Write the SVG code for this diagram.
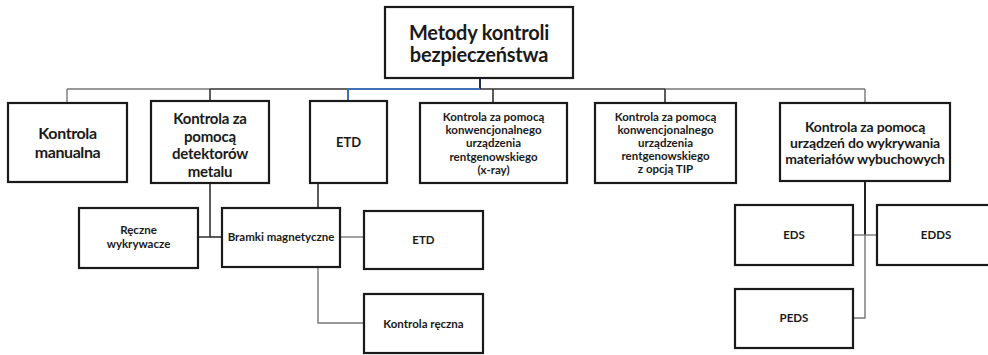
<svg xmlns="http://www.w3.org/2000/svg" width="988" height="355" viewBox="0 0 988 355">
<style>
.box{fill:#fff;stroke:#1a1a1a;stroke-width:2.2}
text{font-family:Lato,"Open Sans","Liberation Sans",sans-serif;font-weight:bold;fill:#1a1a1a;text-anchor:middle}
.t1{font-size:20px;letter-spacing:-0.2px}
.t2{font-size:16px;letter-spacing:-0.4px}
.t2b{font-size:15px;letter-spacing:-0.2px}
.t3{font-size:14px;letter-spacing:-0.2px}
.t4{font-size:11.5px}
.dk{stroke:#333;stroke-width:1.6;fill:none}
.gr{stroke:#777;stroke-width:1.4;fill:none}
.bl{stroke:#3f6fb8;stroke-width:2;fill:none}
.nv{stroke:#1f2f55;stroke-width:2;fill:none}
</style>
<g id="connectors">
<line class="gr" x1="67" y1="89" x2="210" y2="89"/>
<line class="dk" x1="210" y1="89" x2="348" y2="89"/>
<line class="dk" x1="480" y1="89" x2="665" y2="89"/>
<line class="gr" x1="665" y1="89" x2="865" y2="89"/>
<line class="gr" x1="67" y1="89" x2="67" y2="103"/>
<line class="dk" x1="210" y1="89" x2="210" y2="101"/>
<line class="nv" x1="480" y1="78" x2="480" y2="89"/>
<polyline class="bl" points="480,89 348,89 348,101"/>
<line class="dk" x1="493" y1="89" x2="493" y2="103"/>
<line class="dk" x1="665" y1="89" x2="665" y2="103"/>
<line class="gr" x1="865" y1="89" x2="865" y2="103"/>
<polyline class="dk" points="210,183 210,237 198,237"/>
<line class="dk" x1="210" y1="237" x2="222" y2="237"/>
<line class="dk" x1="318" y1="183" x2="318" y2="208"/>
<line class="gr" x1="340" y1="237" x2="364" y2="237"/>
<polyline class="gr" points="318,267 318,323 364,323"/>
<line class="nv" x1="865" y1="181" x2="865" y2="235" style="stroke:#222"/>
<polyline class="gr" points="865,235 865,318 853,318"/>
<line class="gr" x1="853" y1="235" x2="877" y2="235"/>
</g>
<g id="root"><rect class="box" x="385" y="7" width="188" height="71"/><text class="t1" x="479" y="40">Metody kontroli</text><text class="t1" x="479" y="62">bezpieczeństwa</text></g>
<g id="manualna"><rect class="box" x="8" y="103" width="119" height="79"/><text class="t2" x="67.5" y="139">Kontrola</text><text class="t2" x="67.5" y="158">manualna</text></g>
<g id="detektory"><rect class="box" x="151" y="101" width="118" height="82"/><text class="t2b" x="210" y="124">Kontrola za</text><text class="t2b" x="210" y="141.5">pomocą</text><text class="t2b" x="210" y="159">detektorów</text><text class="t2b" x="210" y="176.5">metalu</text></g>
<g id="etd"><rect class="box" x="310" y="101" width="77" height="82"/><text class="t4" x="348.5" y="147" style="font-size:13px">ETD</text></g>
<g id="xray"><rect class="box" x="420" y="103" width="147" height="80"/><text class="t4" x="493.5" y="121">Kontrola za pomocą</text><text class="t4" x="493.5" y="134">konwencjonalnego</text><text class="t4" x="493.5" y="147">urządzenia</text><text class="t4" x="493.5" y="161">rentgenowskiego</text><text class="t4" x="493.5" y="174">(x-ray)</text></g>
<g id="tip"><rect class="box" x="595" y="103" width="141" height="80"/><text class="t4" x="665.5" y="121">Kontrola za pomocą</text><text class="t4" x="665.5" y="134">konwencjonalnego</text><text class="t4" x="665.5" y="147">urządzenia</text><text class="t4" x="665.5" y="160">rentgenowskiego</text><text class="t4" x="665.5" y="173">z opcją TIP</text></g>
<g id="wybuchowe"><rect class="box" x="780" y="103" width="170" height="78"/><text class="t3" x="865" y="132">Kontrola za pomocą</text><text class="t3" x="865" y="148">urządzeń do wykrywania</text><text class="t3" x="865" y="164">materiałów wybuchowych</text></g>
<g id="reczne"><rect class="box" x="79" y="208" width="119" height="60"/><text class="t4" x="138.5" y="234">Ręczne</text><text class="t4" x="138.5" y="248">wykrywacze</text></g>
<g id="bramki"><rect class="box" x="222" y="208" width="118" height="59"/><text class="t4" x="281" y="241">Bramki magnetyczne</text></g>
<g id="etd2"><rect class="box" x="364" y="211" width="119" height="58"/><text class="t4" x="423.5" y="244">ETD</text></g>
<g id="kontrola-reczna"><rect class="box" x="364" y="294" width="119" height="59"/><text class="t4" x="423.5" y="328">Kontrola ręczna</text></g>
<g id="eds"><rect class="box" x="735" y="205" width="118" height="60"/><text class="t4" x="794" y="239">EDS</text></g>
<g id="edds"><rect class="box" x="877" y="205" width="120" height="60"/><text class="t4" x="936" y="239">EDDS</text></g>
<g id="peds"><rect class="box" x="735" y="289" width="118" height="59"/><text class="t4" x="794" y="322">PEDS</text></g>
</svg>
